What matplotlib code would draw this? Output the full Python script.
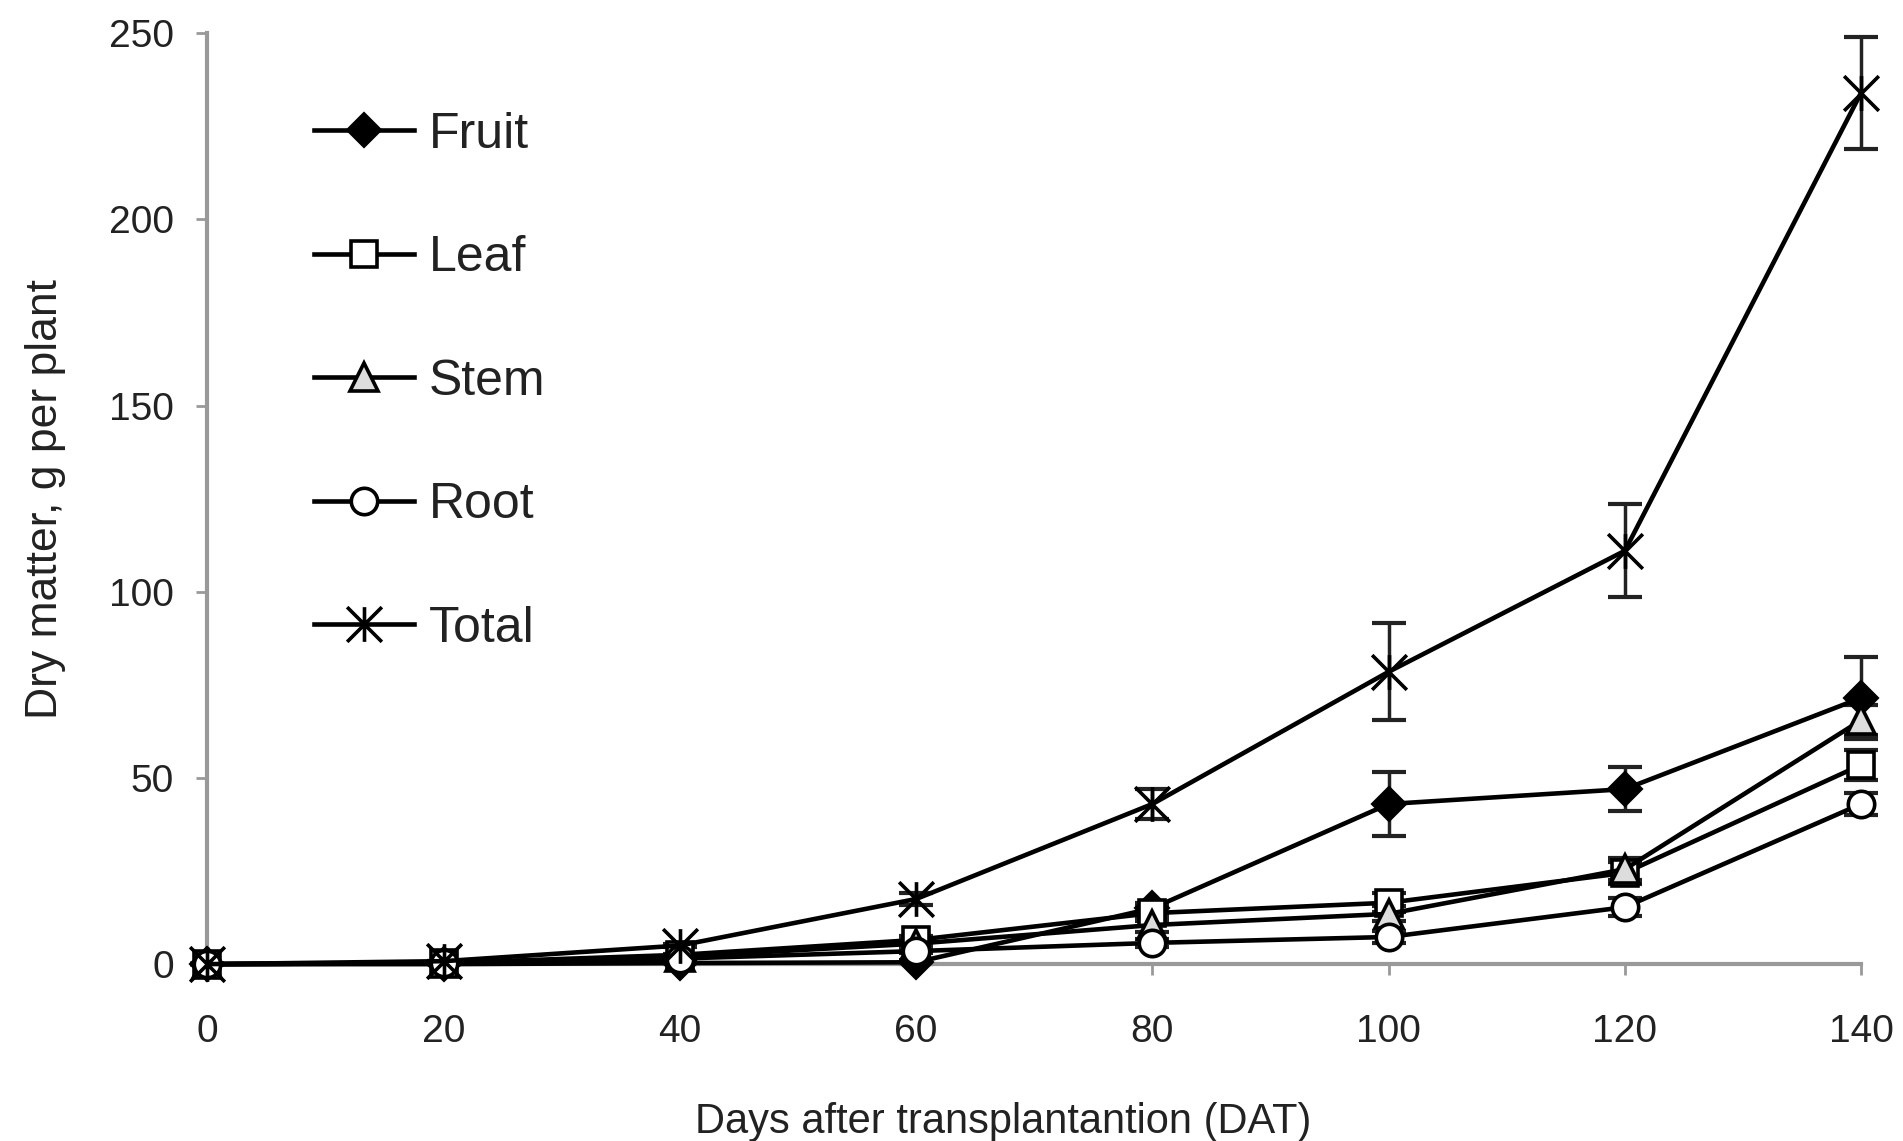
import matplotlib
matplotlib.use("Agg")
import matplotlib.pyplot as plt
from matplotlib.path import Path

days = [0, 20, 40, 60, 80, 100, 120, 140]

fruit = [0, 0, 0.3, 0.5, 15, 43, 47, 71.5]
leaf = [0, 0.3, 2.5, 6.5, 13.7, 16.5, 24.5, 53.5]
stem = [0, 0.3, 2, 5.5, 10.5, 13.5, 25.5, 65.5]
root = [0, 0.2, 1.5, 3.5, 5.7, 7.3, 15.3, 43]
total = [0, 0.8, 5, 17.5, 43, 78.5, 111, 234]

fruit_err = [0, 0, 0.2, 0.5, 1.5, 8.5, 6, 11]
leaf_err = [0, 0, 0.3, 1, 2, 2.5, 3, 4]
stem_err = [0, 0, 0.3, 1, 2, 2, 3, 4]
root_err = [0, 0, 0.2, 0.5, 1, 1.5, 2.5, 3]
total_err = [0, 0, 0.5, 1.5, 4, 13, 12.5, 15]

labels = ["Fruit", "Leaf", "Stem", "Root", "Total"]

plt.rcParams["font.family"] = ["Liberation Sans", "DejaVu Sans"]

# Excel-style asterisk marker (x plus vertical bar)
star = Path([(-1, -1), (1, 1), (-1, 1), (1, -1), (0, -1), (0, 1)],
            [Path.MOVETO, Path.LINETO, Path.MOVETO, Path.LINETO, Path.MOVETO, Path.LINETO])

fig = plt.figure(figsize=(19.03, 11.41), dpi=100)
ax = fig.add_axes([0.109, 0.155, 0.869, 0.816])

series = [
    (fruit, fruit_err, dict(marker="D", markersize=16, markerfacecolor="black")),
    (leaf, leaf_err, dict(marker="s", markersize=19, markerfacecolor="white")),
    (stem, stem_err, dict(marker="^", markersize=20, markerfacecolor="#dddddd")),
    (root, root_err, dict(marker="o", markersize=19, markerfacecolor="white")),
    (total, total_err, dict(marker=star, markersize=25)),
]

handles = []
for (vals, err, style), lab in zip(series, labels):
    ax.errorbar(days, vals, yerr=err, fmt="none", ecolor="#222222",
                elinewidth=2.5, capsize=12, capthick=3, clip_on=False, zorder=2)
    h, = ax.plot(days, vals, color="black", linewidth=3.3,
                 markeredgecolor="black", markeredgewidth=2.6,
                 clip_on=False, zorder=3, label=lab, **style)
    handles.append(h)

ax.set_xlim(0, 140)
ax.set_ylim(0, 250)
ax.set_xticks(days)
ax.set_yticks([0, 50, 100, 150, 200, 250])

for s in ["top", "right"]:
    ax.spines[s].set_visible(False)
for s in ["left", "bottom"]:
    ax.spines[s].set_color("#999999")
    ax.spines[s].set_linewidth(3)

ax.tick_params(axis="both", colors="#999999", width=2, length=8,
               labelsize=28, labelcolor="#222222")
ax.tick_params(axis="x", pad=28)
ax.tick_params(axis="y", pad=16)

ax.set_xlabel("Days after transplantantion (DAT)", fontsize=30, color="#222222")
ax.xaxis.set_label_coords(0.481, -0.148)
ax.set_ylabel("Dry matter, g per plant", fontsize=32, color="#222222", labelpad=31)

leg = ax.legend(handles=handles, loc="upper left", bbox_to_anchor=(0.037, 0.964),
                frameon=False, fontsize=36, labelspacing=1.55, handlelength=2.0,
                handletextpad=0.3)
for t in leg.get_texts():
    t.set_color("#222222")

fig.savefig("out.png", dpi=100)
